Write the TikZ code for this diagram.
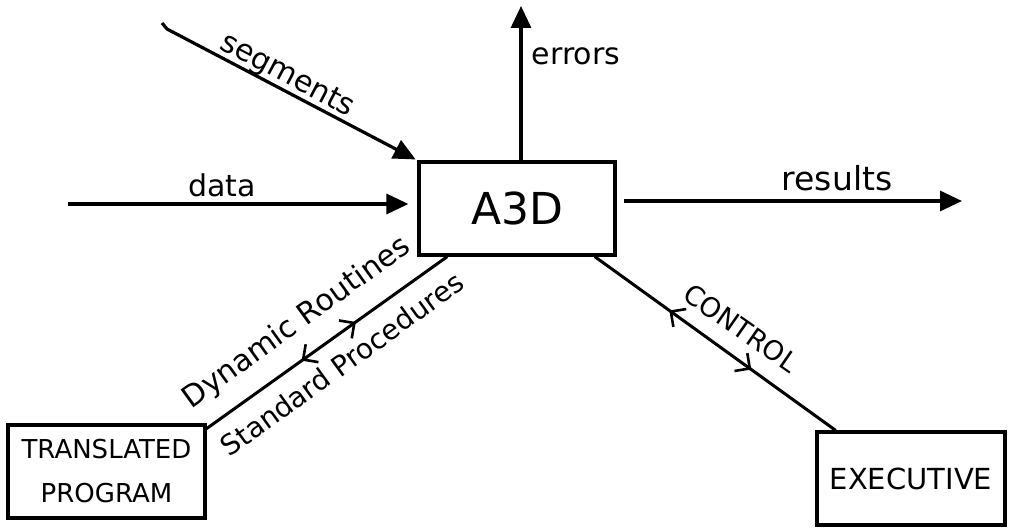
\documentclass[tikz,border=0pt]{standalone}
\usepackage{fontspec}
\setmainfont{DejaVu Sans}
\usetikzlibrary{arrows.meta,calc,decorations.markings}
\begin{document}
\begin{tikzpicture}[x=1pt,y=-1pt,
  blk/.style={draw, line width=3.2pt, minimum height=93pt, inner sep=0pt},
  flow/.style={line width=3.2pt, line join=round, -{Triangle[length=22pt,width=20pt]}},
  link/.style={line width=3pt},
  lbl/.style={font=\fontsize{30}{36}\selectfont, inner sep=0pt}]
\useasboundingbox (0,0) rectangle (1009,529);

% boxes
\node[blk, minimum width=196pt, font=\fontsize{44}{50}\selectfont] (a3d) at (517,208.5) {A3D};
\node[blk, minimum width=197pt, align=center, font=\fontsize{26}{44}\selectfont] (tp) at (106.5,471.5) {TRANSLATED\\PROGRAM};
\node[blk, minimum width=188pt, font=\fontsize{29}{34}\selectfont] (exe) at (911,478.5) {EXECUTIVE};

% free ends of the flows
\coordinate (dataIn) at (68,204);
\coordinate (resOut) at (962,201);
\coordinate (errOut) at (521,6);
\coordinate (segIn) at (167,29);
\coordinate (segHook) at (162,23);

% attachment points on the box borders
\coordinate (a3dL) at ($(a3d.south west)!0.15!(a3d.south east)$);
\coordinate (a3dR) at ($(a3d.south west)!0.89!(a3d.south east)$);
\coordinate (tpR) at ($(tp.north east)!0.054!(tp.south east)$);
\coordinate (exeT) at ($(exe.north west)!0.106!(exe.north east)$);

% inputs and outputs
\draw[flow, shorten >=9pt] (dataIn) -- (dataIn -| a3d.west);
\draw[flow, shorten <=7pt] (resOut -| a3d.east) -- (resOut);
\draw[flow] (errOut |- a3d.north) -- (errOut);
\draw[flow, shorten >=2pt] (segHook) -- (segIn) -- (a3d.north west);

% two-way links
\draw[link, postaction={decorate}, decoration={markings,
    mark=at position 0.62 with {\arrow[line width=2.6pt]{Straight Barb[length=11pt,width=22pt]}},
    mark=at position 0.395 with {\arrowreversed[line width=2.6pt]{Straight Barb[length=11pt,width=22pt]}}}]
  (tpR) -- (a3dL);
\draw[link, postaction={decorate}, decoration={markings,
    mark=at position 0.65 with {\arrow[line width=2.6pt]{Straight Barb[length=11pt,width=22pt]}},
    mark=at position 0.31 with {\arrowreversed[line width=2.6pt]{Straight Barb[length=11pt,width=22pt]}}}]
  (a3dR) -- (exeT);

% labels
\node[lbl, anchor=base] (dataLbl) at (222,197) {data};
\node[lbl, anchor=base] (errLbl) at (576,65) {errors};
\node[lbl, anchor=base, font=\fontsize{33}{38}\selectfont] (resLbl) at (837,191) {results};
\node[lbl, rotate=-27.9] (segLbl) at (287,76) {segments};
\node[lbl, rotate=35.8] (dynLbl) at (297,323) {Dynamic Routines};
\node[lbl, rotate=35.8, font=\fontsize{28}{34}\selectfont] (stdLbl) at (342,364) {Standard Procedures};
\node[lbl, rotate=-34.8, font=\fontsize{27}{32}\selectfont] (ctlLbl) at (741,328) {CONTROL};
\end{tikzpicture}
\end{document}
